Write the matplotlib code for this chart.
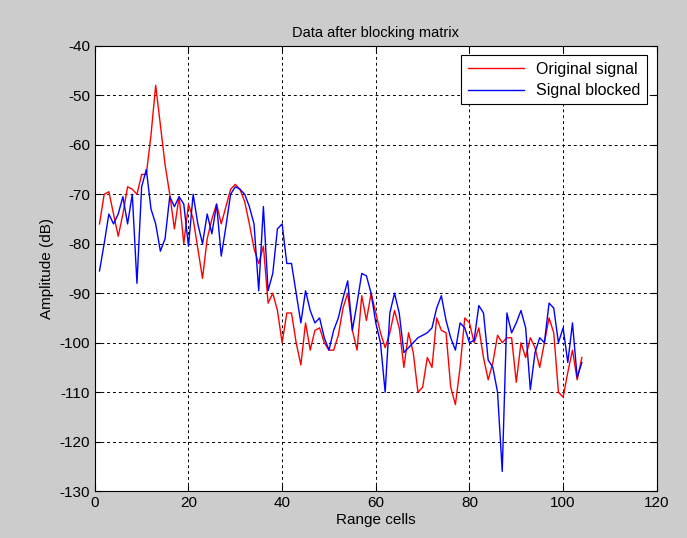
import numpy as np
import matplotlib
matplotlib.use('Agg')
import matplotlib.pyplot as plt

# range cell index
cells = np.arange(1, 105)

# values (dB)
original = [-76, -70, -69.5, -74, -78.5, -74, -68.5, -69, -70, -66,
            -66, -58, -48, -56, -64, -70, -77, -70.5, -80, -72,
            -75, -81, -87, -79, -75, -72, -76, -72.5, -69, -68,
            -69, -71.5, -76, -81, -84, -80.5, -92, -90, -93.5, -100,
            -94, -94, -100, -104.5, -96, -101.5, -97.5, -97, -100, -101.5,
            -101.5, -98.5, -93, -90, -97.5, -101.5, -90.5, -95.5, -90, -94,
            -98, -101, -98, -93.5, -97, -105, -98, -102, -110, -109,
            -103, -105, -95, -97.5, -98, -109, -112.5, -105, -95, -96,
            -100, -97, -103, -107.5, -104, -98.5, -100, -99, -99, -108,
            -100, -103, -99, -101, -105, -100, -95, -98, -110, -111,
            -106, -101.5, -107.5, -103]

blocked = [-85.5, -80, -74, -76, -74, -70.5, -76, -70, -88, -68.5,
           -65, -73, -76, -81.5, -79, -70.5, -72.5, -70.5, -72, -80.5,
           -70, -76, -80, -74, -78, -72, -82.5, -76.5, -70, -68.5,
           -69, -70, -72.5, -76, -89.5, -72.5, -89.5, -86, -77, -76,
           -84, -84, -90, -96, -89.5, -93.5, -96, -95, -99, -101.5,
           -97.5, -95, -91, -87.5, -97.5, -92, -86, -86.5, -90, -96,
           -100, -110, -94, -90, -94, -102, -101, -100, -99, -98.5,
           -98, -97, -93, -90.5, -95.5, -99, -101.5, -96, -97, -100,
           -99.5, -92.5, -94, -103.5, -105, -110, -126, -94, -98, -96,
           -93.5, -97, -109.5, -102, -99, -100, -92, -93, -100, -97,
           -104, -96, -107, -104]

plt.rcParams['font.family'] = ['Liberation Sans', 'DejaVu Sans']
plt.rcParams['font.size'] = 10
plt.rcParams['axes.unicode_minus'] = False

fig = plt.figure(figsize=(6.87, 5.38), dpi=100, facecolor='#cccccc')
ax = fig.add_axes([0.138, 0.087, 0.818, 0.828])
ax.set_facecolor('white')

ax.plot(cells, original, color='red', lw=1, label='Original signal')
ax.plot(cells, blocked, color='blue', lw=1, label='Signal blocked')

ax.set_xlim(0, 120)
ax.set_ylim(-130, -40)
ax.set_xticks(np.arange(0, 121, 20))
ax.set_yticks(np.arange(-130, -39, 10))
ax.grid(True, color='black', linestyle=(0, (3, 3)), lw=0.7)
ax.tick_params(direction='in', top=True, right=True, length=4, labelsize=11)
for s in ax.spines.values():
    s.set_linewidth(0.8)

ax.set_title('Data after blocking matrix', fontsize=10.5)
ax.set_xlabel('Range cells', fontsize=11, labelpad=2)
ax.set_ylabel('Amplitude (dB)', fontsize=11)

leg = ax.legend(loc='upper right', fancybox=False, framealpha=1, edgecolor='black',
                fontsize=11.5, handlelength=3.5, borderaxespad=0.6, labelspacing=0.4)
leg.get_frame().set_linewidth(0.8)

plt.savefig('out.png', dpi=100, facecolor=fig.get_facecolor())
